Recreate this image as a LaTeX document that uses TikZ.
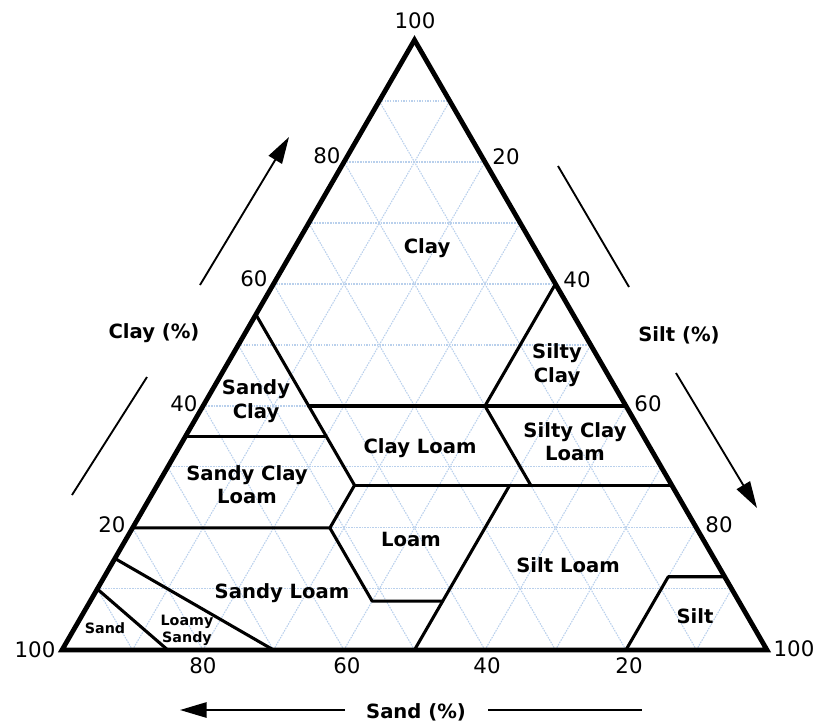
\documentclass[tikz,border=0pt]{standalone}
\usepackage{fontspec}
\setmainfont{DejaVu Sans}
\usetikzlibrary{arrows.meta}
\begin{document}
\begin{tikzpicture}[x=0.75pt,y=-0.75pt,
  gridline/.style={draw={rgb,255:red,185;green,208;blue,236},line width=0.8pt,dash pattern=on 1.2pt off 0.8pt},
  outer/.style={line width=3.6pt,line join=miter},
  region/.style={line width=2.3pt,line join=round,line cap=round},
  axisline/.style={line width=1.4pt},
  axisarrow/.style={line width=1.4pt,-{Triangle[length=20pt,width=11.5pt]}},
  num/.style={font=\fontsize{16}{18}\selectfont},
  lab/.style={font=\fontsize{14.7}{17.5}\selectfont\bfseries,align=center},
  smalllab/.style={font=\fontsize{10.7}{13}\selectfont\bfseries,align=center}]
\useasboundingbox (0,0) rectangle (817,725);
% vertices: A = sand 100, B = silt 100, C = clay 100 (weights in tenths)
\coordinate (A) at (62,650);
\coordinate (B) at (767,650);
\coordinate (C) at (414.5,40);
% grid
\foreach \k in {1,...,9}{
  \pgfmathtruncatemacro\m{10-\k}
  \draw[gridline] (barycentric cs:A=\m,C=\k) -- (barycentric cs:B=\m,C=\k);
  \draw[gridline] (barycentric cs:B=\k,A=\m) -- (barycentric cs:B=\k,C=\m);
  \draw[gridline] (barycentric cs:A=\k,B=\m) -- (barycentric cs:A=\k,C=\m);
}
% boundary points (A=sand, B=silt, C=clay), in tenths
\coordinate (c55) at (barycentric cs:A=4.5,B=0,C=5.5);
\coordinate (c35) at (barycentric cs:A=6.5,B=0,C=3.5);
\coordinate (c20) at (barycentric cs:A=8,B=0,C=2);
\coordinate (c15) at (barycentric cs:A=8.5,B=0,C=1.5);
\coordinate (c10) at (barycentric cs:A=9,B=0,C=1);
\coordinate (r60) at (barycentric cs:A=0,B=4,C=6);
\coordinate (r40) at (barycentric cs:A=0,B=6,C=4);
\coordinate (r27) at (barycentric cs:A=0,B=7.3,C=2.7);
\coordinate (r12) at (barycentric cs:A=0,B=8.8,C=1.2);
\coordinate (b15) at (barycentric cs:A=8.5,B=1.5,C=0);
\coordinate (b30) at (barycentric cs:A=7,B=3,C=0);
\coordinate (b50) at (barycentric cs:A=5,B=5,C=0);
\coordinate (b80) at (barycentric cs:A=2,B=8,C=0);
\coordinate (p1) at (barycentric cs:A=4.5,B=1.5,C=4);
\coordinate (p2) at (barycentric cs:A=2,B=4,C=4);
\coordinate (p3) at (barycentric cs:A=4.5,B=2,C=3.5);
\coordinate (p4) at (barycentric cs:A=4.5,B=2.8,C=2.7);
\coordinate (p5) at (barycentric cs:A=2,B=5.3,C=2.7);
\coordinate (p6) at (barycentric cs:A=2.3,B=5,C=2.7);
\coordinate (p7) at (barycentric cs:A=5.2,B=2.8,C=2);
\coordinate (p8) at (barycentric cs:A=5.2,B=4,C=0.8);
\coordinate (p9) at (barycentric cs:A=4.2,B=5,C=0.8);
\coordinate (p10) at (barycentric cs:A=0.8,B=8,C=1.2);
% region boundaries
\draw[region] (c55) -- (p4);
\draw[region] (p1) -- (r40);
\draw[region] (p2) -- (r60);
\draw[region] (c35) -- (p3);
\draw[region] (p4) -- (r27);
\draw[region] (p2) -- (p5);
\draw[region] (p6) -- (b50);
\draw[region] (p4) -- (p7) -- (c20);
\draw[region] (p7) -- (p8) -- (p9);
\draw[region] (r12) -- (p10) -- (b80);
\draw[region] (c15) -- (b30);
\draw[region] (c10) -- (b15);
% outer triangle
\draw[outer] (A) -- (B) -- (C) -- cycle;
% tick numbers
\node[num] (t100) at (415,21) {100};
\node[num] (l80) at (327,156) {80};
\node[num] (l60) at (254,279) {60};
\node[num] (l40) at (184,404) {40};
\node[num] (l20) at (112,525) {20};
\node[num] (l100) at (35,650) {100};
\node[num] (r20l) at (506,157) {20};
\node[num] (r40l) at (577,280) {40};
\node[num] (r60l) at (648,404) {60};
\node[num] (r80l) at (719,525) {80};
\node[num] (r100l) at (794,649) {100};
\node[num] (b80l) at (203,666) {80};
\node[num] (b60l) at (347,666) {60};
\node[num] (b40l) at (487,666) {40};
\node[num] (b20l) at (629,666) {20};
% region labels
\node[lab] (lclay) at (427,248) {Clay};
\node[lab] (lsc) at (256,401) {Sandy\\Clay};
\node[lab] (lsic) at (557,365) {Silty\\Clay};
\node[lab] (lsicl) at (575,442) {Silty Clay\\Loam};
\node[lab] (lscl) at (247,485) {Sandy Clay\\Loam};
\node[lab] (lcl) at (420,448) {Clay Loam};
\node[lab] (lloam) at (411,539) {Loam};
\node[lab] (lsil) at (568,565) {Silt Loam};
\node[lab] (lsl) at (282,593) {Sandy Loam};
\node[lab] (lsilt) at (695,616) {Silt};
\node[smalllab] (lsand) at (105,628) {Sand};
\node[smalllab] (lls) at (187,630) {Loamy\\Sandy};
% axis titles
\node[lab] (tclay) at (154,333) {Clay (\%)};
\node[lab] (tsilt) at (679,335) {Silt (\%)};
\node[lab] (tsand) at (416,712) {Sand (\%)};
% axis arrows
\coordinate (la1) at (72,495); \coordinate (la2) at (147,377);
\coordinate (la3) at (200,285); \coordinate (la4) at (289,137);
\draw[axisline] (la1) -- (la2);
\draw[axisarrow] (la3) -- (la4);
\coordinate (ra1) at (558,166); \coordinate (ra2) at (629,287);
\coordinate (ra3) at (676,373); \coordinate (ra4) at (757,508);
\draw[axisline] (ra1) -- (ra2);
\draw[axisarrow] (ra3) -- (ra4);
\coordinate (ba1) at (345,710); \coordinate (ba2) at (180,710);
\coordinate (ba3) at (488,710); \coordinate (ba4) at (642,710);
\draw[axisarrow] (ba1) -- (ba2);
\draw[axisline] (ba3) -- (ba4);
\end{tikzpicture}
\end{document}
